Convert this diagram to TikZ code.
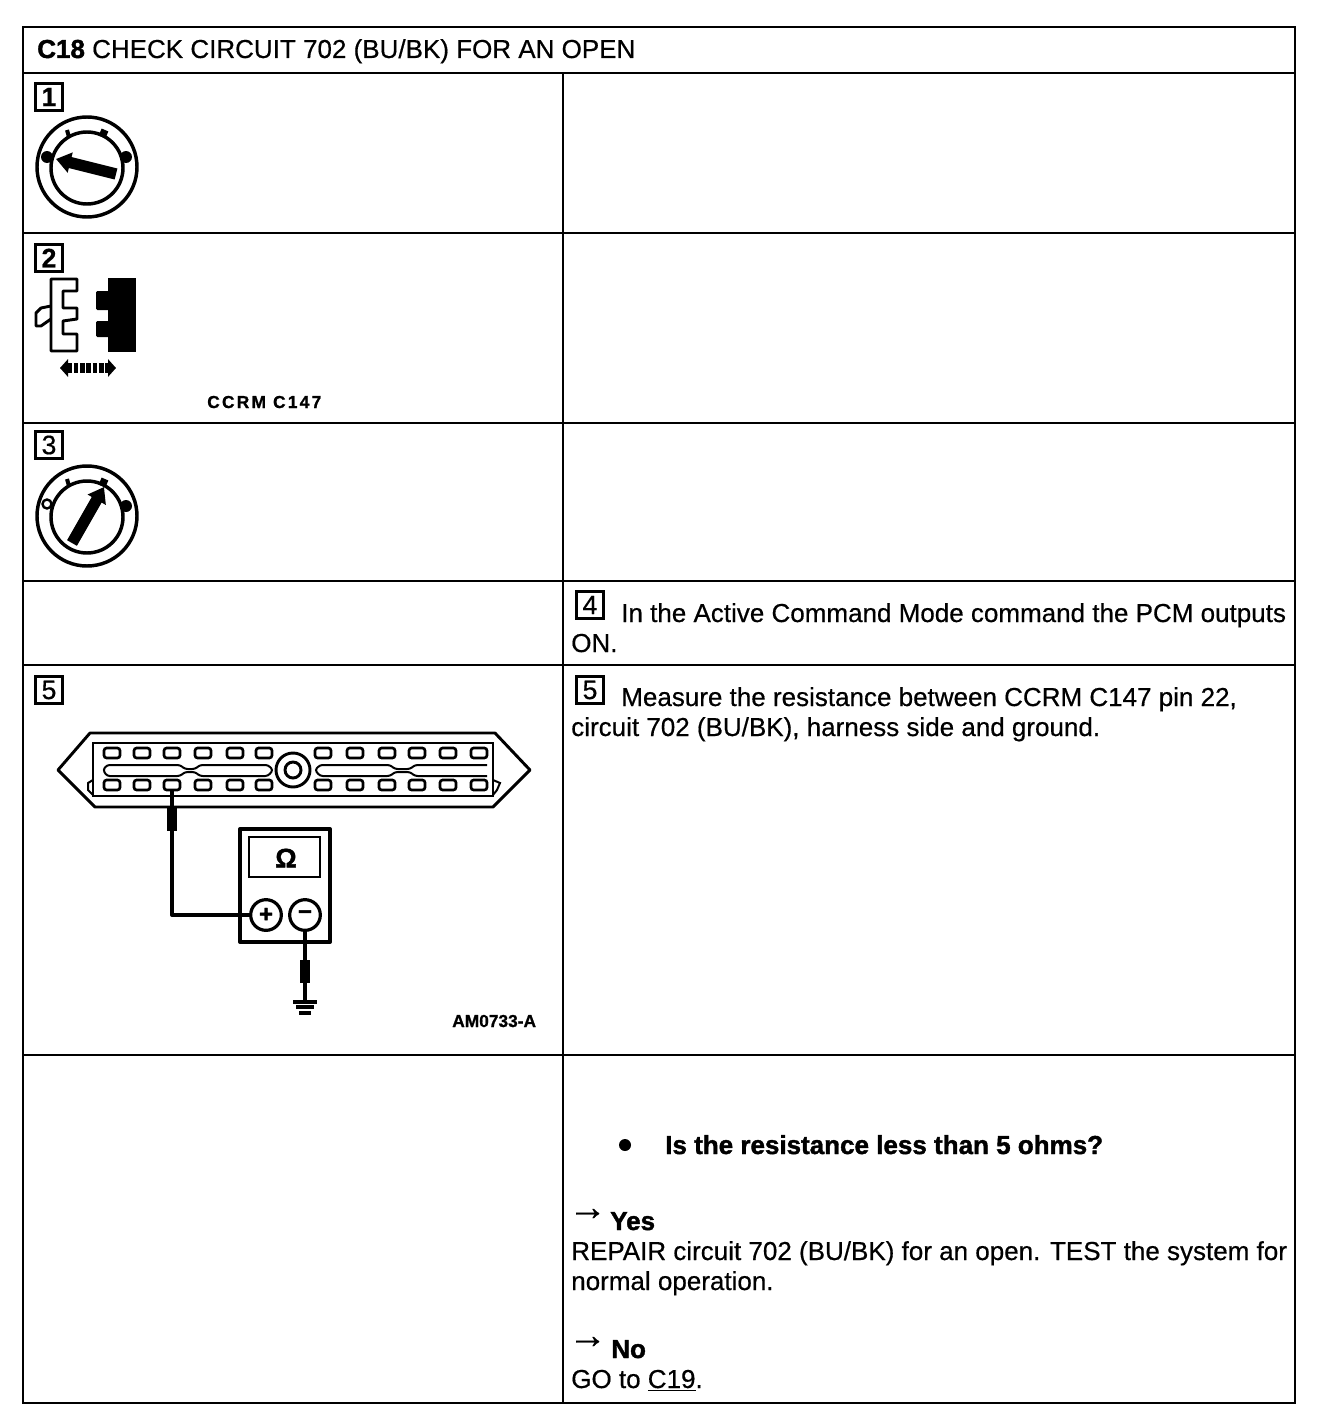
\documentclass[tikz,border=0pt]{standalone}
\usepackage{fontspec}
\setmainfont{Liberation Sans}[FakeBold=0.5]
\usetikzlibrary{arrows.meta}
\tikzset{
  grid-line/.style={draw=black, line width=2.2pt},
  cell-text/.style={anchor=base west, inner sep=0pt, font=\fontsize{19.5}{24}\selectfont},
  bold-text/.style={anchor=base west, inner sep=0pt, font=\fontsize{19.5}{24}\selectfont\bfseries\addfontfeatures{FakeBold=1.5}},
  note-text/.style={anchor=base west, inner sep=0pt, font=\fontsize{13}{15}\selectfont\bfseries\addfontfeatures{FakeBold=1}},
  arrow-text/.style={anchor=base west, inner sep=0pt, font=\fontsize{29}{29}\selectfont},
  step-box/.style={draw=black, line width=2.2pt, minimum size=20pt, inner sep=0pt,
    font=\fontsize{20}{20}\selectfont},
  dial-line/.style={draw=black, line width=2.6pt},
  dial-pointer/.style={-{Triangle[length=11pt, width=15pt]}, line width=8.5pt, draw=black},
  art-line/.style={draw=black, line width=2.2pt},
  thin-line/.style={draw=black, line width=1.5pt},
  lead-line/.style={draw=black, line width=3pt},
  term-circle/.style={draw=black, line width=2.4pt, circle, minimum size=23pt, inner sep=0pt, fill=white,
    font=\fontsize{18}{18}\selectfont\bfseries\addfontfeatures{FakeBold=1.5}},
  pins/.style={draw=black, line width=2pt, rounded corners=2pt},
  pics/key-dial/.style={code={
    \draw[dial-line] (0,0) circle (50);
    \draw[dial-line] (0,1) circle (36);
    \draw[line width=3pt] (-20,-37) -- (-18,-30);
    \draw[line width=5.5pt] (18,-37) -- (15,-30);
    \fill (39,-10) circle (6);
    #1
  }}
}
\begin{document}
\begin{tikzpicture}[x=0.75pt, y=-0.75pt]
\useasboundingbox[fill=white] (0,0) rectangle (1328,1420);

% Table frame
\draw[grid-line] (23,27) rectangle (1295,1403);
\foreach \y in {73,233,423,581,665,1055}
  \draw[grid-line] (23,\y) -- (1295,\y);
\draw[grid-line] (563,73) -- (563,1403);

% Heading
\node[cell-text] (title) at (37,58) {{\bfseries\addfontfeatures{FakeBold=1.5}C18} CHECK CIRCUIT 702 (BU/BK) FOR AN OPEN};

% Step markers
\node[step-box] (mark-a) at (49,97) {\textbf{1}};
\node[step-box] (mark-b) at (49,258) {\textbf{2}};
\node[step-box] (mark-c) at (49,445) {3};
\node[step-box] (mark-d) at (590,605) {4};
\node[step-box] (mark-e) at (49,690) {5};
\node[step-box] (mark-f) at (590,690) {5};

% Key switch, off
\pic at (87,167) {key-dial={\fill (-40,-10) circle (6);}};
\coordinate (off-tail) at (116,174);
\coordinate (off-tip) at (56,159);
\draw[dial-pointer] (off-tail) -- (off-tip);

% Key switch, on
\pic at (87,516) {key-dial={\draw[line width=1.8pt] (-40,-12) circle (4.5);}};
\coordinate (on-tail) at (72,543);
\coordinate (on-tip) at (104,487);
\draw[dial-pointer] (on-tail) -- (on-tip);

% Disconnect symbol
\draw[art-line, line join=round] (51,279) -- (77,279) -- (77,291) -- (63,291) -- (63,308) -- (77,308) -- (77,319)
  -- (63,321) -- (63,334) -- (77,334) -- (77,351) -- (51,351) -- cycle;
\draw[art-line, line join=round] (51,306) -- (41,308) -- (36,313) -- (36,326) -- (41,326) -- (51,319);
\fill (108,278) rectangle (136,352);
\fill[rounded corners=1pt] (110,291) -- (96,291) -- (96,310) -- (110,310) -- cycle;
\fill[rounded corners=1pt] (110,321) -- (96,321) -- (96,337) -- (110,337) -- cycle;
\coordinate (part-l) at (60,368);
\coordinate (part-r) at (116,368);
\draw[{Triangle[length=6pt, width=13pt]}-{Triangle[length=6pt, width=13pt]}, line width=7pt,
  dash pattern=on 3.5pt off 1.2pt] (part-l) -- (part-r);
\node[note-text] (conn-name) at (207,408) {\addfontfeatures{LetterSpace=13}CCRM C147};

% Connector C147
\draw[art-line, line join=round] (58,770) -- (90,733) -- (495,733) -- (530,770) -- (493,807) -- (95,807) -- cycle;
\draw[art-line] (93,743) rectangle (493,796);
\draw[thin-line] (93,780) -- (88,783) -- (88,790) -- (93,795);
\draw[thin-line] (493,780) -- (500,783) -- (497,790) -- (493,795);
\foreach \x in {112,142,172,203,235,264,323,355,387,417,448,479} {
  \draw[pins] (\x-8,748) rectangle (\x+8,758);
  \draw[pins] (\x-8,780) rectangle (\x+8,790);
}
\draw[thin-line, rounded corners=2pt] (180,765) -- (107,765) -- (103,770) -- (107,776) -- (180,776) -- (185,772) -- (195,772)
  -- (200,776) -- (268,776) -- (273,770) -- (268,765) -- (200,765) -- (195,769) -- (185,769) -- cycle;
\draw[thin-line, rounded corners=2pt] (487,765) -- (415,765) -- (410,769) -- (395,769) -- (390,765) -- (320,765) -- (315,770)
  -- (320,776) -- (390,776) -- (395,772) -- (410,772) -- (415,776) -- (487,776);
\draw[art-line] (293,770) circle (17);
\draw[art-line] (293,770) circle (8);

% Meter
\draw[lead-line, line join=round] (240,829) rectangle (330,942);
\draw[art-line] (249,837) rectangle (320,877);
\node[inner sep=0pt, font=\fontsize{20}{20}\selectfont\bfseries\addfontfeatures{FakeBold=1.5}] (ohm) at (286,858) {Ω};
\node[term-circle] (plus) at (266,915) {+};
\node[term-circle] (minus) at (305,915) {\raisebox{-4pt}{\char"2212}};

% Leads
\coordinate (pin-22) at (172,790);
\coordinate (pos-probe-a) at (172,808);
\coordinate (pos-probe-b) at (172,831);
\coordinate (ground-top) at (305,1002);
\coordinate (neg-probe-a) at (305,960);
\coordinate (neg-probe-b) at (305,983);
\draw[lead-line, line join=round] (pin-22) |- (plus);
\draw[line width=7.5pt] (pos-probe-a) -- (pos-probe-b);
\draw[lead-line] (minus) -- (ground-top);
\draw[line width=7.5pt] (neg-probe-a) -- (neg-probe-b);
\draw[line width=2.6pt] (293,1002) -- (317,1002);
\draw[line width=2.6pt] (296,1007) -- (314,1007);
\draw[line width=2.6pt] (299,1013) -- (311,1013);
\node[note-text] (art-code) at (452,1027) {AM0733-A};

% Right column text
\node[cell-text] (four-a) at (621,622) {In the Active Command Mode command the PCM outputs};
\node[cell-text] (four-b) at (571,652) {ON.};
\node[cell-text] (five-a) at (621,706) {Measure the resistance between CCRM C147 pin 22,};
\node[cell-text] (five-b) at (571,736) {circuit 702 (BU/BK), harness side and ground.};
\fill (625,1145) circle (6);
\node[bold-text] (question) at (665,1154) {Is the resistance less than 5 ohms?};
\node[arrow-text] (yes-arrow) at (568,1220) {→};
\node[bold-text] (yes) at (610,1230) {Yes};
\node[cell-text] (yes-a) at (571,1260) {REPAIR circuit 702 (BU/BK) for an open. TEST the system for};
\node[cell-text] (yes-b) at (571,1290) {normal operation.};
\node[arrow-text] (no-arrow) at (568,1348) {→};
\node[bold-text] (no) at (611,1358) {No};
\node[cell-text] (no-a) at (571,1388) {GO to \underline{C19}.};
\end{tikzpicture}
\end{document}
